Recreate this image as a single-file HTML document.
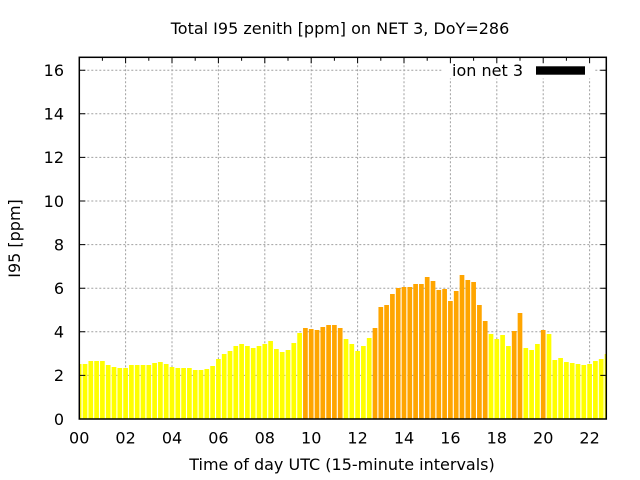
<!DOCTYPE html>
<html>
<head>
<meta charset="utf-8">
<style>
html,body{margin:0;padding:0;background:#fff;}
svg{display:block;}
text{font-family:"DejaVu Sans","Liberation Sans",sans-serif;font-size:16px;fill:#000;}
</style>
</head>
<body>
<svg width="640" height="480" viewBox="0 0 640 480" xmlns="http://www.w3.org/2000/svg">
<defs>
<clipPath id="pc"><rect x="79.3" y="57.3" width="527" height="361.7"/></clipPath>
</defs>
<rect x="0" y="0" width="640" height="480" fill="#fff"/>
<path fill="none" stroke="#a0a0a0" stroke-width="1" stroke-dasharray="2 2" d="M125.6 57.3V419M172 57.3V419M218.4 57.3V419M264.8 57.3V419M311.2 57.3V419M357.6 57.3V419M404 57.3V419M450.4 57.3V419M496.8 57.3V419M543.2 57.3V419M589.6 57.3V419M79.3 375.4H606.3M79.3 331.8H606.3M79.3 288.2H606.3M79.3 244.6H606.3M79.3 201H606.3M79.3 157.4H606.3M79.3 113.8H606.3M79.3 70.2H606.3"/>
<g clip-path="url(#pc)">
<path fill="#ffff00" d="M76.85 364h4.7V419h-4.7zM82.65 364h4.7V419h-4.7zM88.45 361h4.7V419h-4.7zM94.25 361h4.7V419h-4.7zM100.05 361h4.7V419h-4.7zM105.85 365h4.7V419h-4.7zM111.65 367h4.7V419h-4.7zM117.45 368h4.7V419h-4.7zM123.25 368h4.7V419h-4.7zM129.05 365h4.7V419h-4.7zM134.85 365h4.7V419h-4.7zM140.65 365h4.7V419h-4.7zM146.45 365h4.7V419h-4.7zM152.25 363h4.7V419h-4.7zM158.05 362h4.7V419h-4.7zM163.85 364h4.7V419h-4.7zM169.65 367h4.7V419h-4.7zM175.45 368h4.7V419h-4.7zM181.25 368h4.7V419h-4.7zM187.05 368h4.7V419h-4.7zM192.85 370h4.7V419h-4.7zM198.65 370h4.7V419h-4.7zM204.45 369h4.7V419h-4.7zM210.25 366h4.7V419h-4.7zM216.05 359h4.7V419h-4.7zM221.85 354h4.7V419h-4.7zM227.65 351h4.7V419h-4.7zM233.45 346h4.7V419h-4.7zM239.25 344h4.7V419h-4.7zM245.05 346h4.7V419h-4.7zM250.85 348h4.7V419h-4.7zM256.65 346h4.7V419h-4.7zM262.45 344h4.7V419h-4.7zM268.25 341h4.7V419h-4.7zM274.05 349h4.7V419h-4.7zM279.85 352h4.7V419h-4.7zM285.65 350h4.7V419h-4.7zM291.45 343h4.7V419h-4.7zM297.25 333h4.7V419h-4.7zM343.65 339h4.7V419h-4.7zM349.45 344h4.7V419h-4.7zM355.25 351h4.7V419h-4.7zM361.05 346h4.7V419h-4.7zM366.85 338h4.7V419h-4.7zM488.65 334h4.7V419h-4.7zM494.45 339h4.7V419h-4.7zM500.25 335h4.7V419h-4.7zM506.05 346h4.7V419h-4.7zM523.45 348h4.7V419h-4.7zM529.25 350h4.7V419h-4.7zM535.05 344h4.7V419h-4.7zM546.65 334h4.7V419h-4.7zM552.45 360h4.7V419h-4.7zM558.25 358h4.7V419h-4.7zM564.05 362h4.7V419h-4.7zM569.85 363h4.7V419h-4.7zM575.65 364h4.7V419h-4.7zM581.45 365h4.7V419h-4.7zM587.25 364h4.7V419h-4.7zM593.05 361h4.7V419h-4.7zM598.85 359h4.7V419h-4.7zM604.65 354h4.7V419h-4.7z"/>
<path fill="#ffa500" d="M303.05 328h4.7V419h-4.7zM308.85 329h4.7V419h-4.7zM314.65 330h4.7V419h-4.7zM320.45 327h4.7V419h-4.7zM326.25 325h4.7V419h-4.7zM332.05 325h4.7V419h-4.7zM337.85 328h4.7V419h-4.7zM372.65 328h4.7V419h-4.7zM378.45 307h4.7V419h-4.7zM384.25 305h4.7V419h-4.7zM390.05 294h4.7V419h-4.7zM395.85 288h4.7V419h-4.7zM401.65 287h4.7V419h-4.7zM407.45 287h4.7V419h-4.7zM413.25 284h4.7V419h-4.7zM419.05 284h4.7V419h-4.7zM424.85 277h4.7V419h-4.7zM430.65 281h4.7V419h-4.7zM436.45 290h4.7V419h-4.7zM442.25 289h4.7V419h-4.7zM448.05 301h4.7V419h-4.7zM453.85 291h4.7V419h-4.7zM459.65 275h4.7V419h-4.7zM465.45 280h4.7V419h-4.7zM471.25 282h4.7V419h-4.7zM477.05 305h4.7V419h-4.7zM482.85 321h4.7V419h-4.7zM511.85 331h4.7V419h-4.7zM517.65 313h4.7V419h-4.7zM540.85 330h4.7V419h-4.7z"/>
</g>
<rect x="443" y="58.5" width="152" height="20" fill="#fff"/>
<text x="523" y="76" text-anchor="end">ion net 3</text>
<rect x="536" y="66.3" width="49" height="8.4" fill="#000"/>
<path fill="none" stroke="#000" stroke-width="1" d="M79.3 375.4h6M79.3 331.8h6M79.3 288.2h6M79.3 244.6h6M79.3 201h6M79.3 157.4h6M79.3 113.8h6M79.3 70.2h6M606.3 375.4h-6M606.3 331.8h-6M606.3 288.2h-6M606.3 244.6h-6M606.3 201h-6M606.3 157.4h-6M606.3 113.8h-6M606.3 70.2h-6M125.6 57.3v6M172 57.3v6M218.4 57.3v6M264.8 57.3v6M311.2 57.3v6M357.6 57.3v6M404 57.3v6M450.4 57.3v6M496.8 57.3v6M543.2 57.3v6M589.6 57.3v6M102.4 57.3v3.5M148.8 57.3v3.5M195.2 57.3v3.5M241.6 57.3v3.5M288 57.3v3.5M334.4 57.3v3.5M380.8 57.3v3.5M427.2 57.3v3.5M473.6 57.3v3.5M520 57.3v3.5M566.4 57.3v3.5"/>
<rect x="79.3" y="57.3" width="527" height="361.7" fill="none" stroke="#000" stroke-width="1.5"/>
<g text-anchor="end">
<text x="64" y="424.8">0</text>
<text x="64" y="381.2">2</text>
<text x="64" y="337.6">4</text>
<text x="64" y="294">6</text>
<text x="64" y="250.4">8</text>
<text x="64" y="206.8">10</text>
<text x="64" y="163.2">12</text>
<text x="64" y="119.6">14</text>
<text x="64" y="76">16</text>
</g>
<g text-anchor="middle">
<text x="79.2" y="443.5">00</text>
<text x="125.6" y="443.5">02</text>
<text x="172" y="443.5">04</text>
<text x="218.4" y="443.5">06</text>
<text x="264.8" y="443.5">08</text>
<text x="311.2" y="443.5">10</text>
<text x="357.6" y="443.5">12</text>
<text x="404" y="443.5">14</text>
<text x="450.4" y="443.5">16</text>
<text x="496.8" y="443.5">18</text>
<text x="543.2" y="443.5">20</text>
<text x="589.6" y="443.5">22</text>
</g>
<text x="340" y="34" text-anchor="middle">Total I95 zenith [ppm] on NET 3, DoY=286</text>
<text x="342" y="470" text-anchor="middle">Time of day UTC (15-minute intervals)</text>
<text transform="translate(20,238.5) rotate(-90)" x="0" y="0" text-anchor="middle">I95 [ppm]</text>
</svg>
</body>
</html>
